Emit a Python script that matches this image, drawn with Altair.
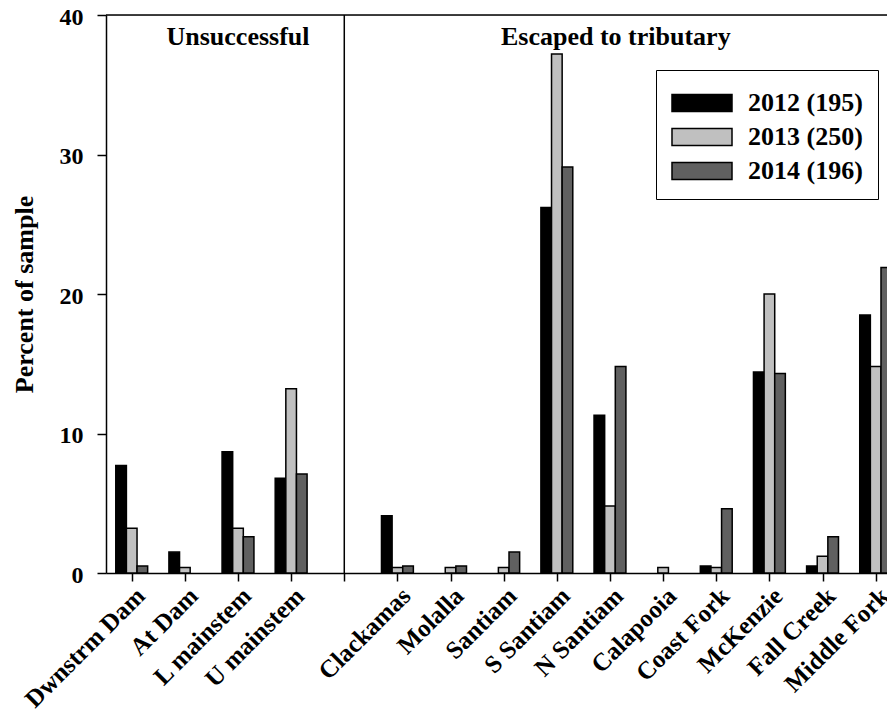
import altair as alt
import pandas as pd

categories = ["Dwnstrm Dam", "At Dam", "L mainstem", "U mainstem", "",
              "Clackamas", "Molalla", "Santiam", "S Santiam", "N Santiam",
              "Calapooia", "Coast Fork", "McKenzie", "Fall Creek", "Middle Fork"]
years = ["2012 (195)", "2013 (250)", "2014 (196)"]
v2012 = [7.7, 1.5, 8.7, 6.8, None, 4.1, 0, 0, 26.2, 11.3, 0, 0.5, 14.4, 0.5, 18.5]
v2013 = [3.2, 0.4, 3.2, 13.2, None, 0.4, 0.4, 0.4, 37.2, 4.8, 0.4, 0.4, 20.0, 1.2, 14.8]
v2014 = [0.5, 0, 2.6, 7.1, None, 0.5, 0.5, 1.5, 29.1, 14.8, 0, 4.6, 14.3, 2.6, 21.9]
colors = ["#000000", "#c0c0c0", "#606060"]
group_labels = ["Unsuccessful", "Escaped to tributary"]
group_label_pos = [2.0, 9.11]
gap_index = 4

rows = []
for k, (yr, vals) in enumerate(zip(years, [v2012, v2013, v2014])):
    for i, v in enumerate(vals):
        if v is not None and v > 0:
            rows.append({"idx": i, "k": k, "year": yr, "value": v, "base": 0, "cat": categories[i]})
df = pd.DataFrame(rows)

FONT = "Liberation Serif"
FS = 26
X0, X1 = -0.484, 14.213

xscale = alt.Scale(domain=[X0, X1], nice=False, zero=False)
yscale = alt.Scale(domain=[0, 40], nice=False)

label_arr = "[" + ",".join("'" + c + "'" for c in categories) + "]"

bars = alt.Chart(df).transform_calculate(
    x1="datum.idx + (datum.k - 1) * 0.2 - 0.1",
    x2="datum.idx + (datum.k - 1) * 0.2 + 0.1",
).mark_bar(stroke="black", strokeWidth=1.5).encode(
    x=alt.X("x1:Q", scale=xscale,
            axis=alt.Axis(values=list(range(len(categories))), labelExpr=label_arr + "[datum.value]",
                          title=None, grid=False, tickSize=8, tickColor="black", domainColor="black",
                          domainWidth=1.5, tickWidth=1.5,
                          labelAngle=-45, labelAlign="right", labelBaseline="top", labelPadding=2,
                          labelFont=FONT, labelFontSize=25, labelFontWeight="bold",
                          labelColor="black", labelOverlap=False, labelBound=False)),
    x2="x2:Q",
    y=alt.Y("value:Q", scale=yscale,
            axis=alt.Axis(values=[0, 10, 20, 30, 40], title="Percent of sample", grid=False,
                          tickSize=9, tickColor="black", domainColor="black", domainWidth=1.5,
                          tickWidth=1.5, labelPadding=14, labelOffset=2, labelFont=FONT,
                          labelFontSize=24, labelFontWeight="bold", labelColor="black",
                          titleFont=FONT, titleFontSize=FS, titleFontWeight="bold",
                          titleColor="black", titlePadding=22)),
    y2="base:Q",
    color=alt.Color("year:N", scale=alt.Scale(domain=years, range=colors),
                    legend=alt.Legend(title=None, orient="none", legendX=550, legendY=55,
                                      symbolType="M-1.765,-0.5H1.765V0.5H-1.765Z",
                                      symbolSize=1156, symbolStrokeColor="black",
                                      symbolStrokeWidth=1.5, symbolOffset=13,
                                      labelOffset=28, labelFont=FONT, labelFontSize=FS,
                                      labelFontWeight="bold", labelColor="black",
                                      padding=15, strokeColor="black", fillColor="white",
                                      rowPadding=3, labelLimit=300)),
)

top_df = pd.DataFrame({"xa": [X0], "xb": [X1], "y": [40]})
top_line = alt.Chart(top_df).mark_rule(color="black", strokeWidth=1.5).encode(
    x=alt.X("xa:Q", scale=xscale), x2="xb:Q", y=alt.Y("y:Q", scale=yscale))

div_df = pd.DataFrame({"x": [gap_index], "y0": [0], "y1": [40]})
divider = alt.Chart(div_df).mark_rule(color="black", strokeWidth=1.5).encode(
    x=alt.X("x:Q", scale=xscale), y=alt.Y("y0:Q", scale=yscale), y2="y1:Q")

txt_df = pd.DataFrame({"x": group_label_pos, "y": [37.86, 37.86], "t": group_labels})
texts = alt.Chart(txt_df).mark_text(font=FONT, fontSize=FS, fontWeight="bold", color="black",
                                    baseline="alphabetic", align="center").encode(
    x=alt.X("x:Q", scale=xscale), y=alt.Y("y:Q", scale=yscale), text="t:N")

chart = alt.layer(bars, divider, top_line, texts).properties(
    width=781, height=558,
    autosize=alt.AutoSizeParams(type="none"),
    padding={"left": 98, "top": 7, "right": 0, "bottom": 142},
).configure_view(stroke=None).configure(background="white")

chart.save("out.html", embed_options={"renderer": "svg", "actions": False})
